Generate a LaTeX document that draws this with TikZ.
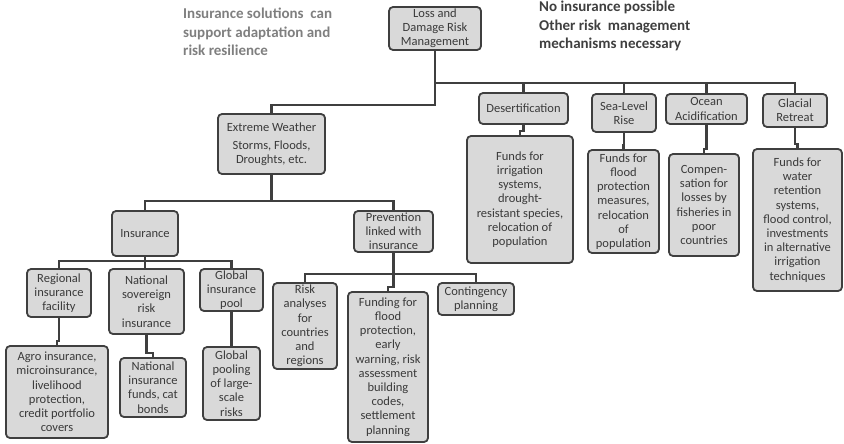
\documentclass[tikz,border=0pt]{standalone}
\usepackage{fontspec}
\setmainfont{Carlito}
\usepackage{xcolor}
\usetikzlibrary{calc}
\definecolor{boxfill}{HTML}{D9D9D9}
\definecolor{boxline}{HTML}{3F3F3F}
\definecolor{boxtext}{HTML}{3A3A3A}
\definecolor{notelight}{HTML}{7F7F7F}
\definecolor{notedark}{HTML}{3F3F3F}
\tikzset{%
    box/.style={shape=rectangle,draw=boxline,fill=boxfill,line width=1.8pt,rounded corners=4pt,inner sep=1pt,outer sep=0pt,anchor=north west,align=center,text=boxtext,font=\fontsize{12.5}{14.2}\selectfont},
    link/.style={draw=boxline,line width=2.2pt},
    note/.style={anchor=north west,align=left,inner sep=0pt,font=\bfseries\fontsize{15}{18.5}\selectfont},
}
\begin{document}
\begin{tikzpicture}[x=1pt,y=-1pt]
        \useasboundingbox (0,0) rectangle (844,444);
        \node [note,text=notelight] (leftnote) at (183,8) {Insurance solutions~~can\\support adaptation and\\risk resilience};
        \node [note,text=notedark] (rightnote) at (539,1) {No insurance possible\\Other risk~~management\\mechanisms necessary};

        \node [box,minimum width=92,minimum height=43] (root) at (389,7) {Loss and\\Damage Risk\\Management};
        \node [box,minimum width=107,minimum height=60] (extreme) at (218,114) {Extreme Weather\\[4pt]Storms, Floods,\\Droughts, etc.};
        \node [box,minimum width=66,minimum height=45] (insurance) at (112,211) {Insurance};
        \node [box,minimum width=79,minimum height=41] (prevention) at (354,211) {Prevention\\linked with\\insurance};
        \node [box,minimum width=64,minimum height=48] (regional) at (27,269) {Regional\\insurance\\facility};
        \node [box,minimum width=75,minimum height=65] (sovereign) at (109,269) {National\\sovereign\\risk\\insurance};
        \node [box,minimum width=63,minimum height=42] (pool) at (200,269) {Global\\insurance\\pool};
        \node [box,minimum width=102,minimum height=92] (agro) at (6,346) {Agro insurance,\\microinsurance,\\livelihood\\protection,\\credit portfolio\\covers};
        \node [box,minimum width=66,minimum height=59] (natfunds) at (120,358) {National\\insurance\\funds, cat\\bonds};
        \node [box,minimum width=57,minimum height=73] (pooling) at (203,347) {Global\\pooling\\of large-\\scale\\risks};
        \node [box,minimum width=64,minimum height=86] (riskan) at (273,283) {Risk\\analyses\\for\\countries\\and\\regions};
        \node [box,minimum width=80,minimum height=150] (funding) at (348,292) {Funding for\\flood\\protection,\\early\\warning, risk\\assessment\\building\\codes,\\settlement\\planning};
        \node [box,minimum width=76,minimum height=32] (contingency) at (438,283) {Contingency\\planning};

        \node [box,minimum width=89,minimum height=31] (desert) at (479,93) {Desertification};
        \node [box,minimum width=64,minimum height=38] (sealevel) at (592,94) {Sea-Level\\Rise};
        \node [box,minimum width=81,minimum height=30] (ocean) at (666,94) {Ocean\\Acidification};
        \node [box,minimum width=64,minimum height=33] (glacial) at (763,94) {Glacial\\Retreat};
        \node [box,minimum width=106,minimum height=127] (desfunds) at (467,136) {Funds for\\irrigation\\systems,\\drought-\\resistant species,\\relocation of\\population};
        \node [box,minimum width=71,minimum height=103] (seafunds) at (588,150) {Funds for\\flood\\protection\\measures,\\relocation\\of\\population};
        \node [box,minimum width=70,minimum height=102] (compensation) at (669,154) {Compen-\\sation for\\losses by\\fisheries in\\poor\\countries};
        \node [box,minimum width=89,minimum height=142] (glacfunds) at (753,149) {Funds for\\water\\retention\\systems,\\flood control,\\investments\\in alternative\\irrigation\\techniques};

        \coordinate (barleft) at (0,105);
        \coordinate (barright) at (0,83);
        \coordinate (barext) at (0,201);
        \coordinate (barins) at (0,261);
        \coordinate (barprev) at (0,274);

        \draw [link] (root.south) |- (extreme.north |- barleft) -- (extreme.north);
        \draw [link] (root.south |- barright) -| (desert.north);
        \draw [link] (root.south |- barright) -| (sealevel.north);
        \draw [link] (root.south |- barright) -| (ocean.north);
        \draw [link] (root.south |- barright) -| (glacial.north);

        \draw [link] (extreme.south) |- (insurance.north |- barext) -- (insurance.north);
        \draw [link] (extreme.south) |- (prevention.north |- barext) -- (prevention.north);

        \draw [link] (insurance.south) |- (regional.north |- barins) -- (regional.north);
        \draw [link] (insurance.south) |- (pool.north |- barins) -- (pool.north);
        \draw [link] (insurance.south) -- (insurance.south |- sovereign.north);

        \draw [link] (prevention.south) |- (riskan.north |- barprev) -- (riskan.north);
        \draw [link] (prevention.south) |- (contingency.north |- barprev) -- (contingency.north);
        \draw [link] (prevention.south) |- ([yshift=5pt]funding.north) -- (funding.north);

        \draw [link] (regional.south) |- ([yshift=5pt]agro.north) -- (agro.north);
        \draw [link] (sovereign.south) |- ([yshift=5pt]natfunds.north) -- (natfunds.north);
        \draw [link] (pool.south) |- ([yshift=5pt]pooling.north) -- (pooling.north);

        \draw [link] (desert.south) |- ([yshift=5pt]desfunds.north) -- (desfunds.north);
        \draw [link] (sealevel.south) |- ([yshift=5pt]seafunds.north) -- (seafunds.north);
        \draw [link] (ocean.south) |- ([yshift=5pt]compensation.north) -- (compensation.north);
        \draw [link] (glacial.south) |- ([yshift=5pt]glacfunds.north) -- (glacfunds.north);
\end{tikzpicture}
\end{document}
